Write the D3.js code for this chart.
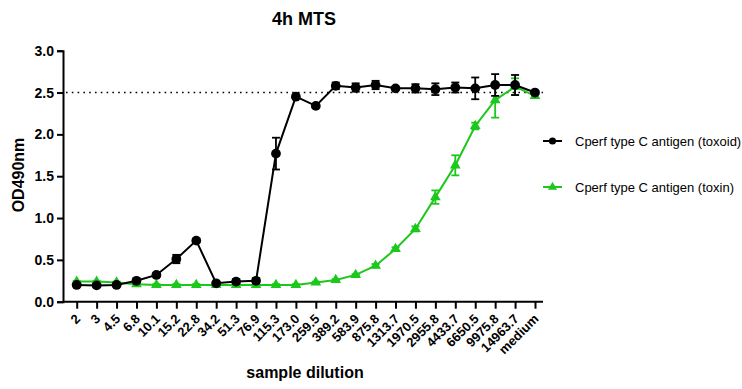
<!DOCTYPE html>
<html><head><meta charset="utf-8">
<script src="https://cdn.jsdelivr.net/npm/d3@7"></script>
<style>body{margin:0;background:#fff}svg{display:block}text{font-family:"Liberation Sans",Arial,sans-serif}</style>
</head><body><svg id="c" width="742" height="389"></svg>
<script>
const categories = ["2","3","4.5","6.8","10.1","15.2","22.8","34.2","51.3","76.9","115.3","173.0","259.5","389.2","583.9","875.8","1313.7","1970.5","2955.8","4433.7","6650.5","9975.8","14963.7","medium"];
const toxoidMean = [0.20,0.195,0.20,0.25,0.32,0.51,0.73,0.22,0.24,0.25,1.77,2.45,2.34,2.58,2.56,2.59,2.55,2.55,2.54,2.56,2.55,2.59,2.59,2.50];
const toxoidErr  = [0.01,0.01,0.01,0.02,0.02,0.05,0.02,0.02,0.03,0.03,0.19,0.01,0.02,0.04,0.05,0.05,0.01,0.05,0.07,0.06,0.13,0.13,0.12,0.02];
const toxinMean  = [0.24,0.24,0.23,0.21,0.20,0.20,0.20,0.20,0.20,0.20,0.20,0.20,0.23,0.26,0.32,0.43,0.63,0.87,1.25,1.63,2.10,2.41,2.57,2.46];
const toxinErr   = [0.01,0.01,0.01,0.01,0.01,0.01,0.01,0.01,0.01,0.01,0.01,0.01,0.01,0.01,0.01,0.02,0.02,0.03,0.08,0.12,0.04,0.21,0.10,0.02];
const yTicks = [0.0,0.5,1.0,1.5,2.0,2.5,3.0];
const refLine = 2.5;
const seriesNames = ["Cperf type C antigen (toxoid)","Cperf type C antigen (toxin)"];

const GREEN = "#1cc81c";
const svg = d3.select("#c");
const x = d3.scalePoint().domain(categories).range([76.7, 535]);
const y = d3.scaleLinear().domain([0,3]).range([301.7, 50.7]);
const xl = 63, xr = 543;

// title
svg.append("text").attr("x",304).attr("y",25).attr("text-anchor","middle")
  .attr("font-size",18).attr("font-weight","bold").text("4h MTS");

// y axis
const ya = svg.append("g").attr("transform",`translate(${xl},0)`)
  .call(d3.axisLeft(y).tickValues(yTicks).tickFormat(d3.format(".1f")).tickSizeOuter(0).tickSize(6));
ya.select(".domain").attr("stroke","#000").attr("stroke-width",2);
ya.selectAll(".tick line").attr("stroke","#000").attr("stroke-width",2);
ya.selectAll(".tick text").attr("font-size",14).attr("font-weight","bold").attr("fill","#000")
  .attr("font-family","Liberation Sans, Arial, sans-serif").attr("x",-9);

// x axis
const xa = svg.append("g").attr("transform",`translate(0,${y(0)})`)
  .call(d3.axisBottom(x).tickSize(7).tickSizeOuter(0));
xa.select(".domain").attr("d",`M${xl},0H${xr}`).attr("stroke","#000").attr("stroke-width",2);
xa.selectAll(".tick line").attr("stroke","#000").attr("stroke-width",2);
xa.selectAll(".tick text").attr("font-size",13).attr("font-weight","bold").attr("fill","#000")
  .attr("font-family","Liberation Sans, Arial, sans-serif")
  .attr("text-anchor","end").attr("dy",0).attr("y",0)
  .attr("transform","translate(4,18) rotate(-45)");

// axis titles
svg.append("text").attr("transform",`translate(24,175) rotate(-90)`).attr("text-anchor","middle")
  .attr("font-size",16).attr("font-weight","bold").text("OD490nm");
svg.append("text").attr("x",305).attr("y",378).attr("text-anchor","middle")
  .attr("font-size",16).attr("font-weight","bold").text("sample dilution");

// dotted reference line
svg.append("line").attr("x1",xl+3).attr("x2",xr).attr("y1",y(refLine)).attr("y2",y(refLine))
  .attr("stroke","#000").attr("stroke-width",1.6).attr("stroke-dasharray","1.6,4.2");

function drawSeries(means, errs, color, shape){
  const g = svg.append("g");
  const pts = categories.map((c,i)=>({c, m:means[i], e:errs[i]}));
  g.append("path").datum(pts).attr("fill","none").attr("stroke",color).attr("stroke-width",2)
    .attr("d", d3.line().x(d=>x(d.c)).y(d=>y(d.m)));
  const eb = g.selectAll(".eb").data(pts).enter().append("g");
  eb.append("line").attr("x1",d=>x(d.c)).attr("x2",d=>x(d.c)).attr("y1",d=>y(d.m-d.e)).attr("y2",d=>y(d.m+d.e))
    .attr("stroke",color).attr("stroke-width",1.8);
  [1,-1].forEach(s=>{
    eb.append("line").attr("x1",d=>x(d.c)-4).attr("x2",d=>x(d.c)+4)
      .attr("y1",d=>y(d.m+s*d.e)).attr("y2",d=>y(d.m+s*d.e)).attr("stroke",color).attr("stroke-width",1.8);
  });
  g.selectAll(".mk").data(pts).enter().append("path")
    .attr("transform",d=>`translate(${x(d.c)},${y(d.m)})`)
    .attr("d", d3.symbol().type(shape).size(shape===d3.symbolCircle?75:50))
    .attr("fill",color);
}
drawSeries(toxinMean, toxinErr, GREEN, d3.symbolTriangle);
drawSeries(toxoidMean, toxoidErr, "#000", d3.symbolCircle);

// legend
const leg = [{n:seriesNames[0], c:"#000", s:d3.symbolCircle, y:141},{n:seriesNames[1], c:GREEN, s:d3.symbolTriangle, y:187}];
leg.forEach(l=>{
  svg.append("line").attr("x1",543).attr("x2",562).attr("y1",l.y).attr("y2",l.y).attr("stroke",l.c).attr("stroke-width",2);
  svg.append("path").attr("transform",`translate(552.5,${l.y})`).attr("d",d3.symbol().type(l.s).size(l.s===d3.symbolCircle?40:36)).attr("fill",l.c);
  svg.append("text").attr("x",575).attr("y",l.y+4.5).attr("font-size",13).attr("fill","#000").text(l.n);
});
</script></body></html>
